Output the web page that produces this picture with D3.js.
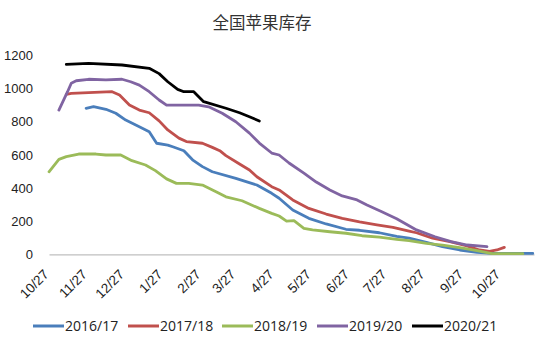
<!DOCTYPE html>
<html><head><meta charset="utf-8">
<script src="https://cdn.jsdelivr.net/npm/d3@7/dist/d3.min.js"></script>
<style>body{margin:0;background:#fff}svg{display:block}</style>
</head><body>
<svg id="c" width="554" height="342"></svg>
<script>
const title = "全国苹果库存";
const seriesNames = ["2016/17","2017/18","2018/19","2019/20","2020/21"];
const seriesColors = ["#4a7ebb","#c0504d","#9bbb59","#8064a2","#000000"];
const yTicks = [0,200,400,600,800,1000,1200];
const xTickDates = ["2016-10-27","2016-11-27","2016-12-27","2017-01-27","2017-02-27","2017-03-27","2017-04-27","2017-05-27","2017-06-27","2017-07-27","2017-08-27","2017-09-27","2017-10-27"];

const s1617Dates = ["2016-11-26","2016-12-02","2016-12-12","2016-12-20","2016-12-28","2017-01-08","2017-01-16","2017-01-22","2017-01-31","2017-02-04","2017-02-13","2017-02-20","2017-02-28","2017-03-08","2017-03-27","2017-04-13","2017-04-25","2017-05-01","2017-05-12","2017-05-25","2017-06-08","2017-06-24","2017-07-05","2017-07-21","2017-08-04","2017-08-14","2017-08-28","2017-09-10","2017-09-24","2017-10-08","2017-10-20","2017-11-22"];
const s1617Values = [881,891,875,851,810,770,740,670,659,649,625,570,529,498,458,418,368,338,267,217,183,151,145,130,108,97,72,46,26,11,5,5];

const s1718Dates = ["2016-11-10","2016-11-14","2016-11-28","2016-12-17","2016-12-23","2016-12-31","2017-01-08","2017-01-16","2017-01-24","2017-01-31","2017-02-09","2017-02-15","2017-02-28","2017-03-08","2017-03-14","2017-03-19","2017-03-30","2017-04-07","2017-04-13","2017-04-25","2017-05-01","2017-05-12","2017-05-25","2017-06-08","2017-06-21","2017-07-05","2017-07-19","2017-08-01","2017-08-14","2017-08-20","2017-09-02","2017-09-16","2017-09-29","2017-10-10","2017-10-18","2017-10-24","2017-10-30"];
const s1718Values = [965,971,975,981,961,901,870,854,805,750,701,680,670,645,625,595,545,509,468,408,388,328,277,243,217,195,177,162,140,130,97,76,52,26,18,26,42];

const s1819Dates = ["2016-10-27","2016-11-04","2016-11-10","2016-11-20","2016-12-04","2016-12-12","2016-12-24","2017-01-02","2017-01-13","2017-01-21","2017-01-30","2017-02-07","2017-02-17","2017-02-28","2017-03-11","2017-03-19","2017-04-01","2017-04-15","2017-04-25","2017-05-01","2017-05-07","2017-05-13","2017-05-21","2017-05-28","2017-06-11","2017-06-24","2017-07-07","2017-07-21","2017-08-04","2017-08-14","2017-08-28","2017-09-10","2017-09-24","2017-10-08","2017-10-20","2017-11-14"];
const s1819Values = [498,573,589,605,605,599,599,565,539,505,455,428,428,418,378,347,323,277,247,231,200,203,157,147,136,127,112,103,90,82,66,56,40,22,4,4];

const s1920Dates = ["2016-11-04","2016-11-11","2016-11-14","2016-11-18","2016-11-28","2016-12-12","2016-12-25","2017-01-01","2017-01-08","2017-01-16","2017-01-24","2017-01-30","2017-02-25","2017-03-05","2017-03-16","2017-03-27","2017-04-07","2017-04-15","2017-04-25","2017-05-01","2017-05-09","2017-05-21","2017-05-31","2017-06-11","2017-06-21","2017-07-03","2017-07-11","2017-07-23","2017-08-04","2017-08-20","2017-09-04","2017-09-17","2017-09-30","2017-10-16"];
const s1920Values = [870,981,1032,1047,1056,1052,1056,1041,1021,981,931,900,900,890,851,800,731,671,611,599,551,490,436,388,352,328,297,257,215,147,106,76,56,46];

const s2021Dates = ["2016-11-10","2016-11-28","2016-12-25","2017-01-16","2017-01-24","2017-01-31","2017-02-08","2017-02-13","2017-02-21","2017-03-01","2017-03-19","2017-03-30","2017-04-07","2017-04-15"];
const s2021Values = [1146,1152,1142,1122,1090,1041,995,981,981,921,881,854,830,804];

const allDates = [s1617Dates,s1718Dates,s1819Dates,s1920Dates,s2021Dates];
const allValues = [s1617Values,s1718Values,s1819Values,s1920Values,s2021Values];

const parse = d3.timeParse("%Y-%m-%d");
const svg = d3.select("#c");
const x = d3.scaleTime().domain([parse("2016-10-27"), parse("2017-11-23")]).range([49, 534]);
const y = d3.scaleLinear().domain([0,1200]).range([254.3, 55.4]);

svg.append("text").attr("x", 262).attr("y", 29).attr("text-anchor","middle")
  .attr("font-family","'Noto Sans CJK SC', sans-serif").attr("font-size", 16.5).attr("fill","#333")
  .text(title);

// y axis (labels only)
const ya = svg.append("g").attr("transform","translate(49,0)")
  .call(d3.axisLeft(y).tickValues(yTicks).tickSize(0).tickPadding(16).tickFormat(d3.format("d")));
ya.select(".domain").remove();
ya.selectAll("text").attr("font-family","'Liberation Sans', Arial, sans-serif").attr("font-size",13).attr("fill","#222");

// x axis
const xa = svg.append("g").attr("transform","translate(0,254.3)")
  .call(d3.axisBottom(x).tickValues(xTickDates.map(parse)).tickSize(0).tickFormat(d3.timeFormat("%-m/%d")));
xa.select(".domain").attr("stroke","#bfbfbf").attr("stroke-width",1.2);
xa.selectAll("text")
  .attr("font-family","'Liberation Sans', Arial, sans-serif").attr("font-size",13.5).attr("fill","#222")
  .attr("text-anchor","end").attr("dy",0).attr("y",0)
  .attr("transform","translate(0,21) rotate(-45)");

const line = d3.line().x(d => x(d[0])).y(d => y(d[1]));
allDates.forEach((ds, i) => {
  const pts = ds.map((d, j) => [parse(d), allValues[i][j]]);
  svg.append("path").datum(pts).attr("d", line).attr("fill","none")
    .attr("stroke", seriesColors[i]).attr("stroke-width", 2.8)
    .attr("stroke-linejoin","round").attr("stroke-linecap","round");
});

// legend
const legX = [33, 128, 222, 317, 412];
const lg = svg.append("g");
seriesNames.forEach((n, i) => {
  lg.append("line").attr("x1", legX[i]).attr("x2", legX[i]+31).attr("y1", 326).attr("y2", 326)
    .attr("stroke", seriesColors[i]).attr("stroke-width", 3);
  lg.append("text").attr("x", legX[i]+32).attr("y", 331)
    .attr("font-family","'Open Sans', sans-serif").attr("font-size", 14).attr("fill","#222").text(n);
});
</script>
</body></html>
